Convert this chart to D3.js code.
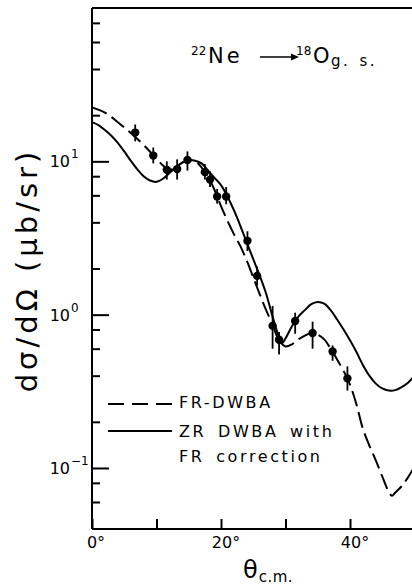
<!DOCTYPE html>
<html><head><meta charset="utf-8">
<script src="https://cdn.jsdelivr.net/npm/d3@7"></script>
<style>
html,body{margin:0;padding:0;background:#fff;}
svg{display:block;font-family:"DejaVu Sans",sans-serif;}
</style></head>
<body><svg id="c" width="412" height="586"></svg>
<script>
// experimental points
const dataAngle = [6.7, 9.5, 11.6, 13.2, 14.8, 17.5, 18.3, 19.4, 20.8, 24.1, 25.6, 28.0, 29.0, 31.5, 34.2, 37.3, 39.6];
const dataValue = [15.4, 10.9, 8.8, 8.9, 10.2, 8.5, 7.6, 5.9, 5.9, 3.03, 1.79, 0.845, 0.686, 0.91, 0.76, 0.575, 0.384];
const dataLow   = [13.5, 9.7, 7.6, 7.6, 8.7, 7.6, 6.8, 5.3, 5.25, 2.6, 1.55, 0.6, 0.55, 0.75, 0.6, 0.5, 0.32];
const dataHigh  = [17.4, 12.3, 10.0, 10.3, 11.6, 9.6, 8.6, 6.6, 6.8, 3.5, 2.06, 1.14, 0.77, 1.03, 0.9, 0.63, 0.46];

// FR-DWBA (dashed)
const frAngle = [0,2,4,6,8,10,11,12,13,14,15,16,17,18,19,20,21,22,23,24,25,26,27,28,29,30,31,32,33,34,35,36,37,38,39,40,41,42,43,44,45,46,46.5,47,48,49,50];
const frValue = [22.5,20.8,18.0,15.3,12.8,10.4,9.4,8.8,9.2,9.8,10.2,10.0,9.1,7.9,6.5,5.1,4.1,3.35,2.8,2.25,1.75,1.36,1.07,0.86,0.68,0.62,0.64,0.69,0.73,0.76,0.74,0.69,0.6,0.51,0.43,0.35,0.26,0.18,0.14,0.112,0.088,0.070,0.066,0.069,0.076,0.087,0.102];

// ZR DWBA with FR correction (solid)
const zrAngle = [0,1,2,3,4,5,6,7,8,9,10,11,12,13,14,15,16,17,18,19,20,21,22,23,24,25,26,27,28,29,29.4,30,31,32,33,34,35,36,37,38,39,40,41,42,43,44,45,46,47,48,49,50];
const zrValue = [18.0,17.2,16.0,14.7,13.2,11.6,10.1,8.9,8.0,7.5,7.35,7.7,8.4,9.1,9.8,10.2,10.1,9.7,8.7,7.8,7.0,5.9,4.8,3.8,2.95,2.3,1.8,1.37,0.97,0.71,0.65,0.7,0.84,0.97,1.07,1.17,1.21,1.18,1.07,0.93,0.8,0.68,0.57,0.47,0.4,0.355,0.33,0.32,0.322,0.337,0.36,0.4];

const xTicks = [0,10,20,30,40];
const xLabels = [0,20,40];
const yMajor = [0.1,1,10];
const yMajorExp = ["\u22121","0","1"];
const yMinor = [0.06,0.08,0.2,0.4,0.6,0.8,2,4,6,8,20,40,60,80];

const svg = d3.select("#c");
const L = 92, R = 414.5, T = 8, B = 529;
const x = d3.scaleLinear().domain([0,50]).range([L,R]);
const y = d3.scaleLog().domain([0.04,100]).range([B,T]);

// frame
svg.append("line").attr("x1",L).attr("x2",412).attr("y1",T).attr("y2",T).attr("stroke","#000").attr("stroke-width",2);
svg.append("line").attr("x1",L).attr("x2",L).attr("y1",T).attr("y2",B).attr("stroke","#000").attr("stroke-width",2);
svg.append("line").attr("x1",L).attr("x2",412).attr("y1",B).attr("y2",B).attr("stroke","#000").attr("stroke-width",2);

// y ticks
const gMaj = svg.append("g").attr("transform",`translate(${L},0)`)
  .call(d3.axisRight(y).tickValues(yMajor).tickSize(17).tickFormat(""));
const gMin = svg.append("g").attr("transform",`translate(${L},0)`)
  .call(d3.axisRight(y).tickValues(yMinor).tickSize(8).tickFormat(""));
[gMaj,gMin].forEach(g=>{g.select(".domain").remove();g.selectAll("line").attr("stroke","#000").attr("stroke-width",2);});

yMajor.forEach((v,i)=>{
  const yy = y(v);
  svg.append("text").attr("x",70).attr("y",yy+6).attr("text-anchor","end")
    .attr("font-size",16).text("10");
  svg.append("text").attr("x",71).attr("y",yy-3).attr("text-anchor","start")
    .attr("font-size",12).text(yMajorExp[i]);
});

// x ticks
const gx = svg.append("g").attr("transform",`translate(0,${B})`)
  .call(d3.axisTop(x).tickValues(xTicks).tickSize(10).tickFormat(""));
gx.select(".domain").remove();
gx.selectAll("line").attr("stroke","#000").attr("stroke-width",2);
xLabels.forEach(v=>{
  const t = svg.append("text").attr("x",x(v)).attr("y",548).attr("text-anchor","middle").attr("font-size",16);
  t.append("tspan").text(v);
  t.append("tspan").text("\u00b0");
  t.attr("dx", v===0 ? 4 : 5);
});

// axis titles
const xt = svg.append("text").attr("x",243).attr("y",578).attr("font-size",24);
xt.append("tspan").text("\u03b8");
xt.append("tspan").attr("font-size",15).attr("dy",4).attr("dx",1).attr("letter-spacing",0.5).text("c.m.");

svg.append("text").attr("transform","translate(37,270) rotate(-90)")
  .attr("text-anchor","middle").attr("font-size",29).attr("letter-spacing",4)
  .text("d\u03c3/d\u03a9 (\u03bcb/sr)");

// title
svg.append("text").attr("x",191).attr("y",55).attr("font-size",12).text("22");
svg.append("text").attr("x",208).attr("y",63).attr("font-size",21).attr("letter-spacing",3).text("Ne");
svg.append("line").attr("x1",260).attr("x2",294).attr("y1",57).attr("y2",57).attr("stroke","#000").attr("stroke-width",1.5);
svg.append("path").attr("d","M291,53.5 L299,57 L291,60.5 Z").attr("fill","#000");
svg.append("text").attr("x",296).attr("y",55).attr("font-size",12).text("18");
svg.append("text").attr("x",313).attr("y",63).attr("font-size",21).text("O");
svg.append("text").attr("x",331).attr("y",66).attr("font-size",15).attr("letter-spacing",2.5)
  .attr("word-spacing",2).style("white-space","pre").text("g. s.");

// curves
const line = d3.line().x(d=>x(d[0])).y(d=>y(d[1])).curve(d3.curveCatmullRom.alpha(0.5));
svg.append("path").datum(frAngle.map((a,i)=>[a,frValue[i]])).attr("d",line)
  .attr("fill","none").attr("stroke","#000").attr("stroke-width",2).attr("stroke-dasharray","16,6");
svg.append("path").datum(zrAngle.map((a,i)=>[a,zrValue[i]])).attr("d",line)
  .attr("fill","none").attr("stroke","#000").attr("stroke-width",2);

// data points
const pts = dataAngle.map((a,i)=>({a, v:dataValue[i], lo:dataLow[i], hi:dataHigh[i]}));
svg.append("g").selectAll("line").data(pts).join("line")
  .attr("x1",d=>x(d.a)).attr("x2",d=>x(d.a)).attr("y1",d=>y(d.lo)).attr("y2",d=>y(d.hi))
  .attr("stroke","#000").attr("stroke-width",1.8);
svg.append("g").selectAll("circle").data(pts).join("circle")
  .attr("cx",d=>x(d.a)).attr("cy",d=>y(d.v)).attr("r",4.2).attr("fill","#000");

// legend
svg.append("line").attr("x1",108).attr("x2",172).attr("y1",404).attr("y2",404)
  .attr("stroke","#000").attr("stroke-width",2).attr("stroke-dasharray","16,8");
svg.append("line").attr("x1",108).attr("x2",172).attr("y1",431).attr("y2",431)
  .attr("stroke","#000").attr("stroke-width",2);
const lg = [["FR-DWBA",408],["ZR DWBA with",437],["FR correction",462]];
lg.forEach(([s,yy])=>{
  svg.append("text").attr("x",179).attr("y",yy).attr("font-size",16).attr("letter-spacing",2.6)
    .attr("word-spacing",4).style("white-space","pre").text(s);
});
</script></body></html>
